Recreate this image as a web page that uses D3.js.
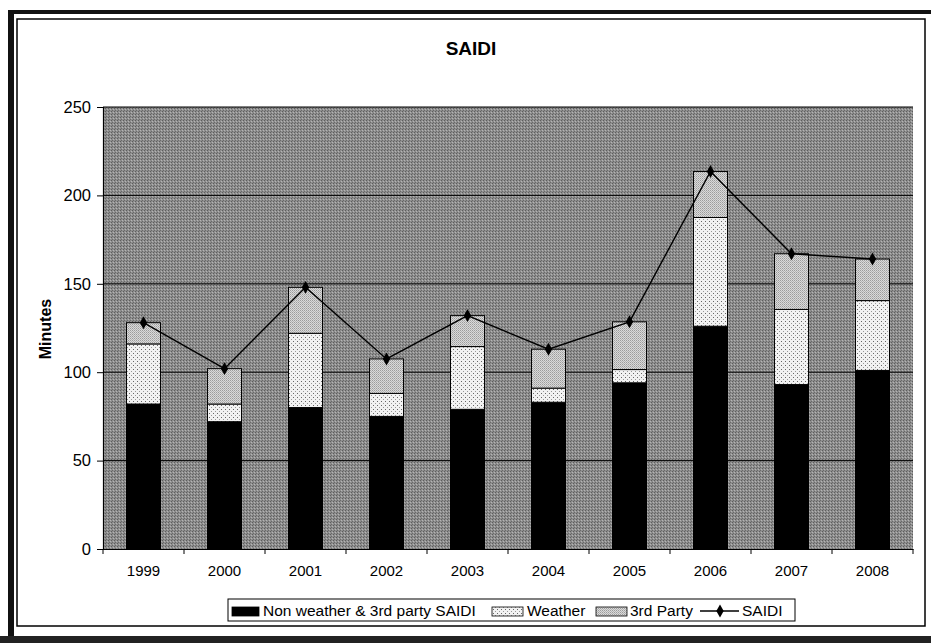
<!DOCTYPE html>
<html>
<head>
<meta charset="utf-8">
<script src="https://cdn.jsdelivr.net/npm/d3@7"></script>
<style>
  body { margin: 0; background: #fff; }
  svg { display: block; font-family: Arial, "Liberation Sans", Helvetica, sans-serif; }
</style>
</head>
<body>
<svg id="chart" width="931" height="643"></svg>
<script>
// ---- Data ----
const years = ["1999","2000","2001","2002","2003","2004","2005","2006","2007","2008"];
const nonWeather = [82, 72, 80, 75, 79, 83, 94, 126, 93, 101];
const weather    = [34, 10, 42, 13, 35.5, 8, 7.5, 61.5, 42.5, 39.5];
const thirdParty = [12, 20, 26, 19.5, 17.5, 22, 27, 26, 31.5, 23.5];
const saidi      = [128, 102, 148, 107.5, 132, 113, 128.5, 213.5, 167, 164];
const yTicks     = [0, 50, 100, 150, 200, 250];
const seriesNames = ["Non weather & 3rd party SAIDI", "Weather", "3rd Party", "SAIDI"];

// ---- Layout ----
const svg = d3.select("#chart");
const plot = { left: 103, right: 913, top: 107, bottom: 549 };

const defs = svg.append("defs");
// plot background dither
const pBg = defs.append("pattern").attr("id","bgPat").attr("width",3).attr("height",3).attr("patternUnits","userSpaceOnUse");
pBg.append("rect").attr("width",3).attr("height",3).attr("fill","#8e8e8e");
pBg.append("rect").attr("x",0).attr("y",0).attr("width",1).attr("height",1).attr("fill","#5e5e5e");
pBg.append("rect").attr("x",2).attr("y",1).attr("width",1).attr("height",1).attr("fill","#b4b4b4");
pBg.append("rect").attr("x",1).attr("y",2).attr("width",1).attr("height",1).attr("fill","#6a6a6a");
// weather: white with dots
const pW = defs.append("pattern").attr("id","wPat").attr("width",4).attr("height",4).attr("patternUnits","userSpaceOnUse");
pW.append("rect").attr("width",4).attr("height",4).attr("fill","#f2f2f2");
pW.append("rect").attr("x",1).attr("y",1).attr("width",1).attr("height",1).attr("fill","#666");
pW.append("rect").attr("x",3).attr("y",3).attr("width",1).attr("height",1).attr("fill","#999");
// third party: light stipple
const pT = defs.append("pattern").attr("id","tPat").attr("width",2).attr("height",2).attr("patternUnits","userSpaceOnUse");
pT.append("rect").attr("width",2).attr("height",2).attr("fill","#dadada");
pT.append("rect").attr("x",0).attr("y",0).attr("width",1).attr("height",1).attr("fill","#9c9c9c");
pT.append("rect").attr("x",1).attr("y",1).attr("width",1).attr("height",1).attr("fill","#b4b4b4");

// outer frame
svg.append("rect").attr("x",8).attr("y",10).attr("width",6).attr("height",633).attr("fill","#111");
svg.append("rect").attr("x",8).attr("y",10).attr("width",923).attr("height",4).attr("fill","#111");
svg.append("rect").attr("x",0).attr("y",636).attr("width",931).attr("height",7).attr("fill","#222");
svg.append("rect").attr("x",17).attr("y",19).attr("width",908).attr("height",607)
  .attr("fill","#fff").attr("stroke","#000").attr("stroke-width",1.5);

// scales
const x = d3.scaleBand().domain(years).range([plot.left, plot.right]).padding(0);
const y = d3.scaleLinear().domain([0, 250]).range([plot.bottom, plot.top]);
const barW = x.bandwidth() * 0.42;

// plot background
svg.append("rect").attr("x",plot.left).attr("y",plot.top)
  .attr("width",plot.right-plot.left).attr("height",plot.bottom-plot.top)
  .attr("fill","url(#bgPat)");

// gridlines
svg.append("g").selectAll("line").data(yTicks.filter(d => d > 0)).join("line")
  .attr("x1",plot.left).attr("x2",plot.right)
  .attr("y1",d => y(d)).attr("y2",d => y(d))
  .attr("stroke","#000").attr("stroke-width",1);

// stacked bars
const rows = years.map((yr,i) => ({ year: yr, nw: nonWeather[i], w: weather[i], t: thirdParty[i] }));
const stack = d3.stack().keys(["nw","w","t"])(rows);
const fills = { nw: "#000", w: "url(#wPat)", t: "url(#tPat)" };
svg.append("g").selectAll("g").data(stack).join("g")
  .attr("fill", d => fills[d.key])
  .selectAll("rect").data(d => d).join("rect")
  .attr("x", d => x(d.data.year) + (x.bandwidth()-barW)/2)
  .attr("width", barW)
  .attr("y", d => y(d[1]))
  .attr("height", d => y(d[0]) - y(d[1]))
  .attr("stroke","#000").attr("stroke-width",1);

// SAIDI line
const cx = yr => x(yr) + x.bandwidth()/2;
svg.append("path").datum(years.map((yr,i) => [cx(yr), y(saidi[i])]))
  .attr("d", d3.line()).attr("fill","none").attr("stroke","#000").attr("stroke-width",1.4);
const diamond = d3.symbol().type(d3.symbolDiamond).size(48);
svg.append("g").selectAll("path").data(years).join("path")
  .attr("d", diamond)
  .attr("transform", (yr,i) => `translate(${cx(yr)},${y(saidi[i])})`)
  .attr("fill","#000");

// axes
const yAxis = d3.axisLeft(y).tickValues(yTicks).tickSize(6).tickPadding(6);
const gy = svg.append("g").attr("transform",`translate(${plot.left},0)`).call(yAxis);
gy.select(".domain").attr("stroke","#000").attr("stroke-width",1.2);
gy.selectAll(".tick line").attr("stroke","#000");
gy.selectAll("text").attr("font-size",16.5).attr("fill","#000")
  .attr("font-family","Arial, 'Liberation Sans', sans-serif");

const xAxis = d3.axisBottom(x).tickSize(0).tickPadding(16);
const gx = svg.append("g").attr("transform",`translate(0,${plot.bottom})`).call(xAxis);
gx.select(".domain").attr("stroke","#000").attr("stroke-width",1.2);
gx.selectAll("text").attr("font-size",15).attr("fill","#000")
  .attr("font-family","Arial, 'Liberation Sans', sans-serif");
// category boundary ticks
svg.append("g").selectAll("line").data(d3.range(years.length + 1)).join("line")
  .attr("x1", i => plot.left + i * x.step()).attr("x2", i => plot.left + i * x.step())
  .attr("y1", plot.bottom).attr("y2", plot.bottom + 5)
  .attr("stroke","#000");

// title & axis label
svg.append("text").attr("x",471).attr("y",55).attr("text-anchor","middle")
  .attr("font-size",19).attr("font-weight","bold").text("SAIDI");
svg.append("text").attr("transform","translate(51,329) rotate(-90)")
  .attr("text-anchor","middle").attr("font-size",16).attr("font-weight","bold").text("Minutes");

// legend
const lg = svg.append("g");
lg.append("rect").attr("x",228).attr("y",599).attr("width",567).attr("height",22)
  .attr("fill","#fff").attr("stroke","#000").attr("stroke-width",1);
const lgItems = [
  { sw: 232, tx: 263, fill: "#000" },
  { sw: 492, tx: 527, fill: "url(#wPat)" },
  { sw: 596, tx: 630, fill: "url(#tPat)" }
];
lgItems.forEach((it,i) => {
  lg.append("rect").attr("x",it.sw).attr("y",607).attr("width",i===0?27:31).attr("height",9)
    .attr("fill",it.fill).attr("stroke","#000").attr("stroke-width",0.8);
  lg.append("text").attr("x",it.tx).attr("y",615.5).attr("font-size",15.5).text(seriesNames[i]);
});
lg.append("line").attr("x1",700).attr("x2",739).attr("y1",611).attr("y2",611)
  .attr("stroke","#000").attr("stroke-width",1.4);
lg.append("path").attr("d",diamond).attr("transform","translate(720,611)").attr("fill","#000");
lg.append("text").attr("x",742).attr("y",615.5).attr("font-size",15.5).text(seriesNames[3]);
</script>
</body>
</html>
